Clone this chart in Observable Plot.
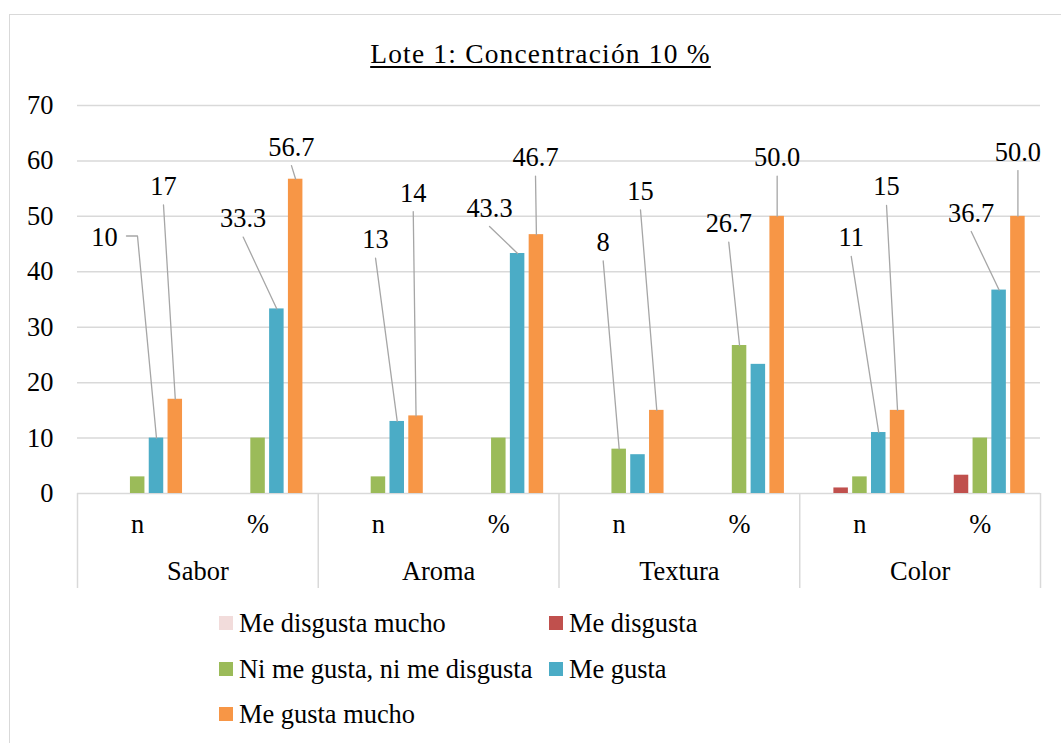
<!DOCTYPE html>
<html>
<head>
<meta charset="utf-8">
<script src="https://cdn.jsdelivr.net/npm/d3@7"></script>
<script src="https://cdn.jsdelivr.net/npm/@observablehq/plot@0.6"></script>
<style>
  html, body { margin: 0; padding: 0; background: #fff; }
  body { width: 1061px; height: 743px; overflow: hidden; position: relative; color: #000; }
  #frame { position: absolute; left: 9px; top: 14px; width: 1100px; height: 800px;
           border: 1.5px solid #d9d9d9; box-sizing: border-box; }
  #title { position: absolute; left: 0; width: 1081px; top: 39px; text-align: center;
           line-height: 30px; text-decoration: underline;
           text-decoration-thickness: 1.5px; text-underline-offset: 3px; white-space: nowrap; }
  #chart { position: absolute; left: 0; top: 90px; }
  .lg-sw { position: absolute; width: 14px; height: 14px; }
  .lg-tx { position: absolute; line-height: 30px; white-space: nowrap; }
</style>
</head>
<body>
<div id="frame"></div>
<div id="title">Lote 1: Concentración 10 %</div>
<div id="chart"></div>
<div id="legend"></div>
<script>
// ---------- data ----------
const groups = ["Sabor", "Aroma", "Textura", "Color"];
const measures = ["n", "%"];
const seriesNames = ["Me disgusta mucho", "Me disgusta", "Ni me gusta, ni me disgusta", "Me gusta", "Me gusta mucho"];
const seriesColors = ["#F2DCDB", "#C0504D", "#9BBB59", "#4BACC6", "#F79646"];
// values per sub-category: Sabor n, Sabor %, Aroma n, Aroma %, Textura n, Textura %, Color n, Color %
const meDisgustaMucho = [0, 0, 0, 0, 0, 0, 0, 0];
const meDisgusta      = [0, 0, 0, 0, 0, 0, 1, 3.3];
const niMeGusta       = [3, 10, 3, 10, 8, 26.7, 3, 10];
const meGusta         = [10, 33.3, 13, 43.3, 7, 23.3, 11, 36.7];
const meGustaMucho    = [17, 56.7, 14, 46.7, 15, 50.0, 15, 50.0];
const yTicks = [0, 10, 20, 30, 40, 50, 60, 70];

// which bars carry a data label (sub-category index, series index)
const labeledBars = [
  [0, 3], [0, 4], [1, 3], [1, 4], [2, 3], [2, 4], [3, 3], [3, 4],
  [4, 2], [4, 4], [5, 2], [5, 4], [6, 3], [6, 4], [7, 3], [7, 4]
];

// ---------- annotation layout (manual label placement, as in the original) ----------
// dx: horizontal label offset from bar centre (px); ly: label height (data units); elbow: bent leader
const labelPlacement = [
  {dx: -52, ly: 46.2, elbow: true}, {dx: -11.8, ly: 55.4},
  {dx: -33.7, ly: 49.6}, {dx: -4.2, ly: 62.5},
  {dx: -21.7, ly: 45.8}, {dx: -2.8, ly: 54.2},
  {dx: -28.1, ly: 51.5}, {dx: -0.9, ly: 60.6},
  {dx: -16, ly: 45.3}, {dx: -16.3, ly: 54.5},
  {dx: -10.8, ly: 48.7}, {dx: 0, ly: 60.6},
  {dx: -27.5, ly: 46.1}, {dx: -11, ly: 55.3},
  {dx: -27.9, ly: 50.6}, {dx: 0, ly: 61.6}
];

// ---------- font selection (pick an installed serif, size it to match) ----------
const ctx = document.createElement("canvas").getContext("2d");
function widthOf(font, t) { ctx.font = font; return ctx.measureText(t).width; }
function hasFont(name) {
  const t = "abcdefghijklmnopqrstuvwxyzABCDEFGHIJ0123456789";
  return ["monospace", "sans-serif"].some(fb => widthOf(`40px ${fb}`, t) !== widthOf(`40px "${name}", ${fb}`, t));
}
const candidates = ["Liberation Serif", "Tinos", "Times New Roman", "Times", "Noto Serif", "DejaVu Serif", "FreeSerif"];
const found = candidates.find(hasFont);
const FONT = found ? `"${found}", serif` : "serif";
const refW = widthOf(`26px ${FONT}`, "Me disgusta mucho");
const FS = Math.max(18, Math.min(30, 26 * 207 / refW));
const titleW = widthOf(`${FS}px ${FONT}`, "Lote 1: Concentración 10 %");
const titleLS = Math.max(0, (361 - titleW) / 26) * 0.5;

document.body.style.fontFamily = FONT;
const titleEl = document.getElementById("title");
titleEl.style.fontSize = (FS + 1) + "px";
titleEl.style.letterSpacing = titleLS + "px";

// ---------- build ----------
const seriesValues = [meDisgustaMucho, meDisgusta, niMeGusta, meGusta, meGustaMucho];
const W = 1061, H = 510, mL = 77, mR = 21, mT = 15, mB = 107;
const pxPerX = (W - mL - mR) / 8;          // px per sub-category unit
const pxPerY = (H - mT - mB) / 70;         // px per data unit
const slot = 18.8 / pxPerX;                // series spacing inside a sub-category
const barW = 14.5 / pxPerX;

const bars = [];
seriesValues.forEach((vals, s) => vals.forEach((v, i) => {
  const cx = i + 0.5 + (s - 2) * slot;
  bars.push({i, s, series: seriesNames[s], value: v, cx, x1: cx - barW / 2, x2: cx + barW / 2});
}));
const barOf = (i, s) => bars.find(b => b.i === i && b.s === s);

const labels = labeledBars.map(([i, s], k) => {
  const b = barOf(i, s), p = labelPlacement[k];
  const text = measures[i % 2] === "%" ? b.value.toFixed(1) : String(b.value);
  return {k, b, text, x: b.cx + p.dx / pxPerX, y: p.ly, elbow: p.elbow};
});
const gap = 18.5 / pxPerY;
const leaders = [];
labels.forEach(l => {
  if (l.elbow) {
    leaders.push({id: l.k, x: l.x + 22 / pxPerX, y: l.y + 1.4 / pxPerY});
    leaders.push({id: l.k, x: l.x + 33 / pxPerX, y: l.y + 1.4 / pxPerY});
  } else {
    leaders.push({id: l.k, x: l.x, y: l.y - gap});
  }
  leaders.push({id: l.k, x: l.b.cx, y: l.b.value});
});

const chart = Plot.plot({
  width: W, height: H, marginLeft: mL, marginRight: mR, marginTop: mT, marginBottom: mB,
  x: {domain: [0, 8], axis: null},
  y: {domain: [0, 70], axis: null},
  color: {domain: seriesNames, range: seriesColors},
  style: {fontFamily: FONT, fontSize: FS + "px", color: "#000", background: "transparent", overflow: "visible"},
  marks: [
    Plot.gridY(yTicks, {stroke: "#d9d9d9", strokeOpacity: 1, strokeWidth: 1.5}),
    Plot.axisY(yTicks, {tickSize: 0, tickPadding: 24, fontSize: FS, tickFormat: d => String(d)}),
    Plot.axisX([0, 2, 4, 6, 8], {tickSize: 95, stroke: "#d9d9d9", strokeWidth: 1.5, strokeOpacity: 1, tickFormat: () => ""}),
    Plot.axisX(d3.range(8).map(i => i + 0.5), {tickSize: 0, tickPadding: 21, fontSize: FS, tickFormat: t => measures[Math.floor(t) % 2]}),
    Plot.axisX(d3.range(4).map(g => g * 2 + 1), {tickSize: 0, tickPadding: 68, fontSize: FS, tickFormat: t => groups[(t - 1) / 2]}),
    Plot.rect(bars.filter(b => b.value > 0), {x1: "x1", x2: "x2", y1: 0, y2: "value", fill: "series"}),
    Plot.line(leaders, {x: "x", y: "y", z: "id", stroke: "#a6a6a6", strokeWidth: 1.3}),
    Plot.text(labels, {x: "x", y: "y", text: "text", fontSize: FS, fill: "#000", textAnchor: "middle", lineAnchor: "middle"})
  ]
});
document.getElementById("chart").appendChild(chart);

// ---------- legend ----------
const legend = document.getElementById("legend");
const colX = [219, 549], rowTop = [616, 661.5, 707];
seriesNames.forEach((name, s) => {
  const c = s % 2, r = Math.floor(s / 2);
  const sw = document.createElement("div");
  sw.className = "lg-sw";
  sw.style.left = colX[c] + "px"; sw.style.top = rowTop[r] + "px";
  sw.style.background = seriesColors[s];
  legend.appendChild(sw);
  const tx = document.createElement("div");
  tx.className = "lg-tx";
  tx.style.fontSize = FS + "px";
  tx.style.left = (colX[c] + 20) + "px"; tx.style.top = (rowTop[r] - 8) + "px";
  tx.textContent = name;
  legend.appendChild(tx);
});
</script>
</body>
</html>
